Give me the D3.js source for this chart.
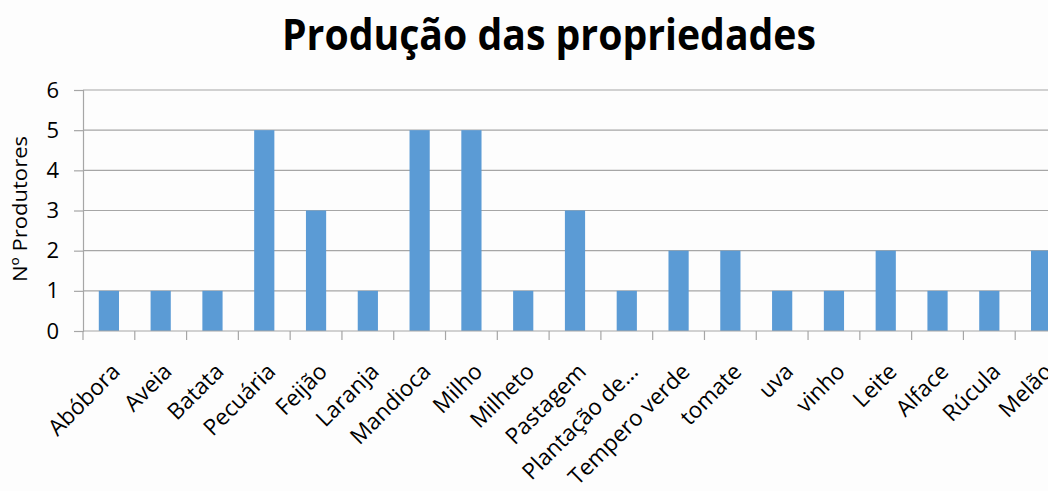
<!DOCTYPE html>
<html>
<head>
<meta charset="utf-8">
<script src="https://cdn.jsdelivr.net/npm/d3@7"></script>
<style>
  body { margin: 0; background: #fdfdfd; overflow: hidden; }
  svg { display: block; }
</style>
</head>
<body>
<svg id="chart"></svg>
<script>
const categories = ["Abóbora", "Aveia", "Batata", "Pecuária", "Feijão", "Laranja", "Mandioca",
  "Milho", "Milheto", "Pastagem", "Plantação de…", "Tempero verde", "tomate", "uva", "vinho",
  "Leite", "Alface", "Rúcula", "Melão"];
const values = [1, 1, 1, 5, 3, 1, 5, 5, 1, 3, 1, 2, 2, 1, 1, 2, 1, 1, 2];
const yTicks = [0, 1, 2, 3, 4, 5, 6];

const width = 1048, height = 491;
const mLeft = 83, mRight = 1067, mTop = 90, mBottom = 331;
const font = "'Open Sans', sans-serif";

const svg = d3.select("#chart").attr("width", width).attr("height", height);

const x = d3.scaleBand().domain(categories).range([mLeft, mRight]).paddingInner(0.61).paddingOuter(0.305);
const y = d3.scaleLinear().domain([0, 6]).range([mBottom, mTop]);

// grid
svg.append("g")
  .selectAll("line")
  .data(yTicks.filter(d => d > 0))
  .join("line")
  .attr("x1", mLeft).attr("x2", mRight)
  .attr("y1", d => y(d)).attr("y2", d => y(d))
  .attr("stroke", "#a6a6a6").attr("stroke-width", 1.2);

// bars
svg.append("g")
  .selectAll("rect")
  .data(values)
  .join("rect")
  .attr("x", (d, i) => x(categories[i]))
  .attr("y", d => y(d))
  .attr("width", x.bandwidth())
  .attr("height", d => y(0) - y(d))
  .attr("fill", "#5b9bd5");

// y axis
const yAxis = svg.append("g")
  .attr("transform", `translate(${mLeft},0)`)
  .call(d3.axisLeft(y).tickValues(yTicks).tickSize(9).tickPadding(15).tickFormat(d3.format("d")));
yAxis.select(".domain").attr("stroke", "#a6a6a6").attr("stroke-width", 1.2);
yAxis.selectAll(".tick line").attr("stroke", "#a6a6a6").attr("stroke-width", 1.2);
yAxis.selectAll(".tick text")
  .attr("font-family", font).attr("font-size", 22).attr("fill", "#000");

// x axis
const xEdges = d3.range(categories.length + 1).map(i => mLeft + i * x.step());
const xg = svg.append("g");
xg.append("line")
  .attr("x1", mLeft).attr("x2", mRight)
  .attr("y1", mBottom).attr("y2", mBottom)
  .attr("stroke", "#a6a6a6").attr("stroke-width", 1.2);
xg.selectAll("line.tk")
  .data(xEdges)
  .join("line")
  .attr("class", "tk")
  .attr("x1", d => d).attr("x2", d => d)
  .attr("y1", mBottom).attr("y2", mBottom + 9)
  .attr("stroke", "#a6a6a6").attr("stroke-width", 1.2);

xg.selectAll("text")
  .data(categories)
  .join("text")
  .attr("transform", d => `translate(${x(d) + x.bandwidth() / 2 + 12.5},${mBottom + 42}) rotate(-45)`)
  .attr("text-anchor", "end")
  .attr("font-family", font)
  .attr("font-size", 22.5)
  .attr("fill", "#000")
  .text(d => d);

// title
svg.append("text")
  .attr("x", 282).attr("y", 50)
  .attr("textLength", 534)
  .attr("lengthAdjust", "spacingAndGlyphs")
  .attr("font-family", font)
  .attr("font-weight", "bold")
  .attr("font-size", 43)
  .attr("fill", "#000")
  .text("Produção das propriedades");

// y label
svg.append("text")
  .attr("transform", `translate(27,209) rotate(-90)`)
  .attr("text-anchor", "middle")
  .attr("textLength", 146)
  .attr("lengthAdjust", "spacingAndGlyphs")
  .attr("font-family", font)
  .attr("font-size", 19.5)
  .attr("fill", "#000")
  .text("Nº Produtores");
</script>
</body>
</html>
